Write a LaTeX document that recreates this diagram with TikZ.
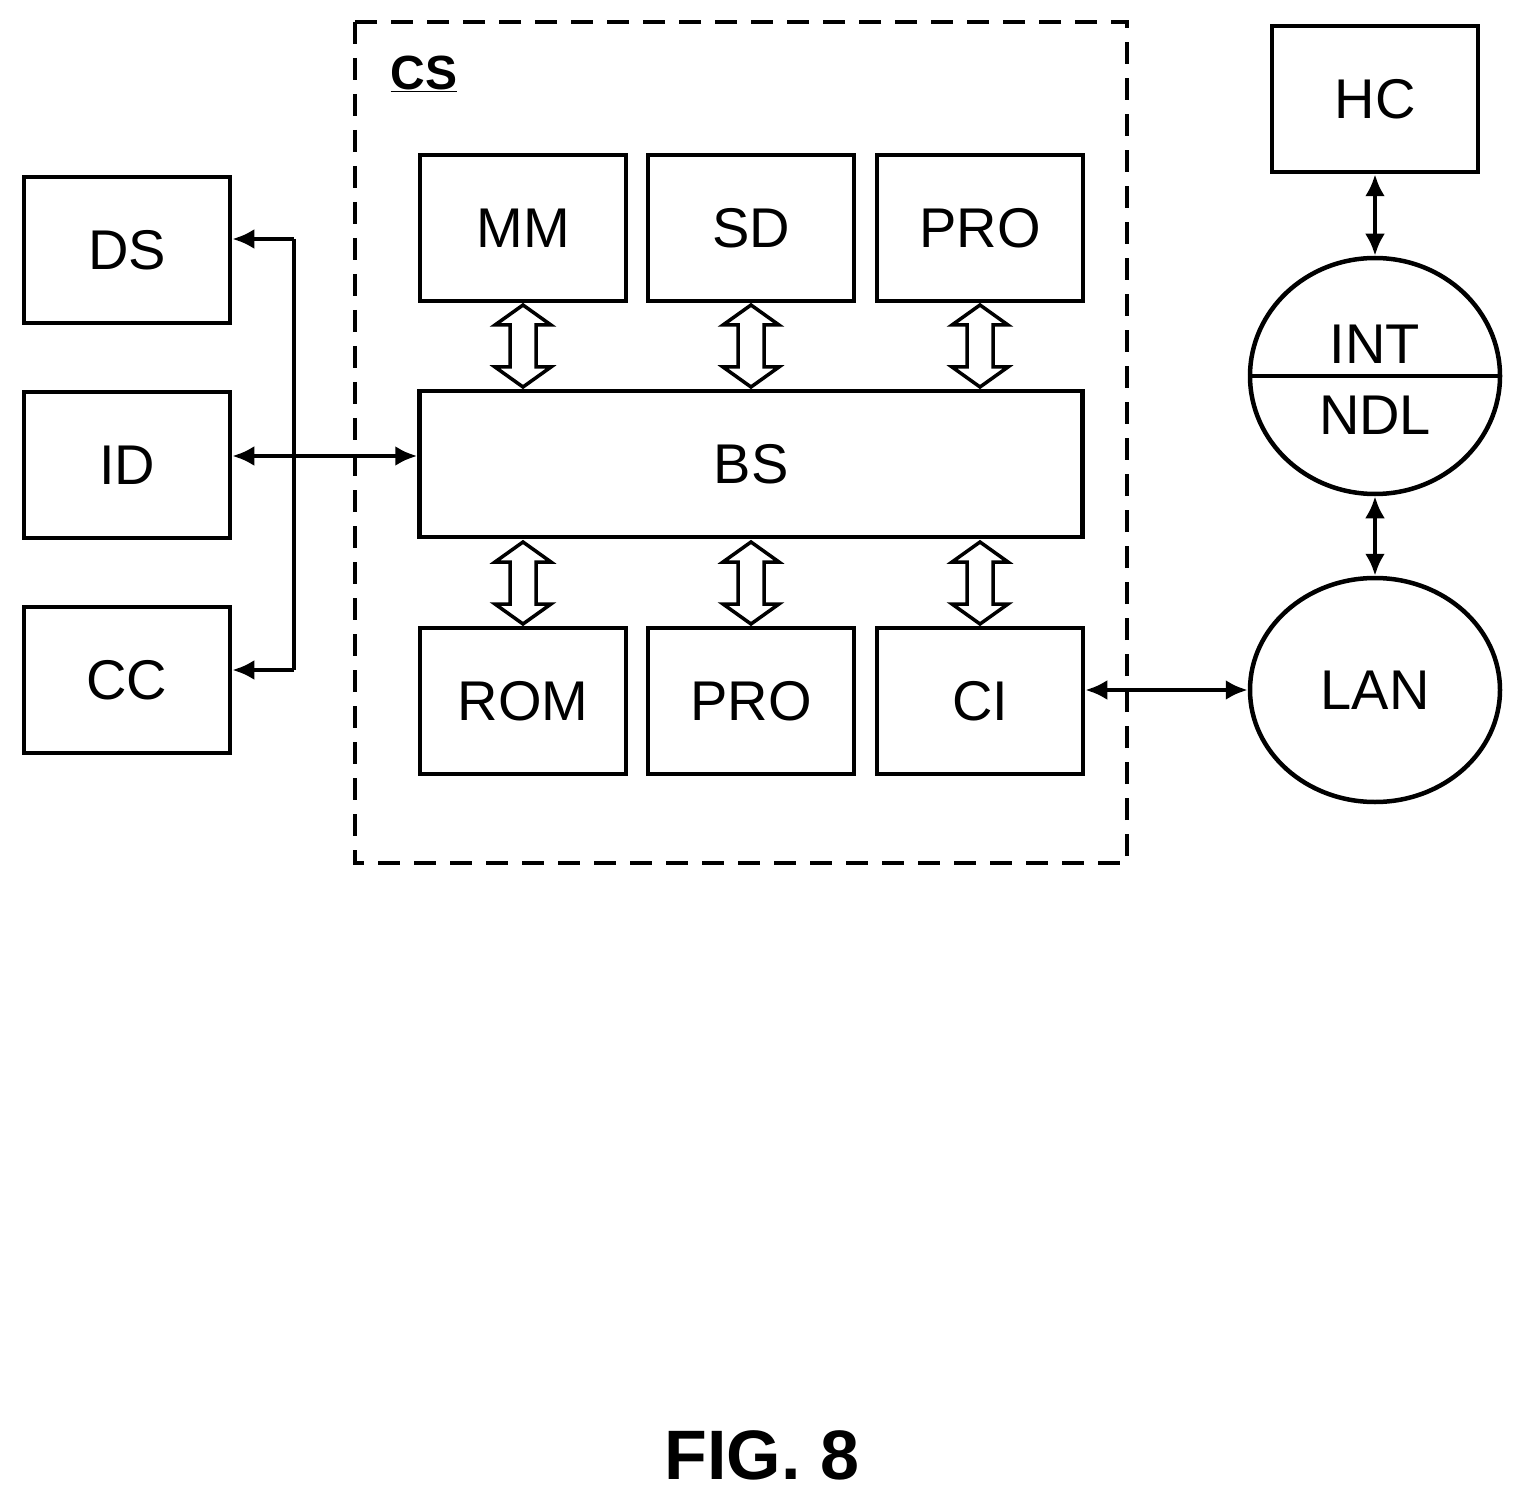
\documentclass[tikz,border=0pt]{standalone}
\usepackage{fontspec}
\setmainfont{Liberation Sans}
\usetikzlibrary{arrows.meta,shapes.geometric}
\begin{document}
\begin{tikzpicture}[x=1pt,y=-1pt,
  box/.style={draw,line width=4.5pt,minimum width=206pt,minimum height=146pt,inner sep=0pt,font=\fontsize{56}{60}\selectfont},
  conn/.style={line width=4.5pt,{Latex[length=22pt,width=20pt]}-{Latex[length=22pt,width=20pt]}},
  one/.style={line width=4.5pt,-{Latex[length=22pt,width=20pt]}},
  hol/.style={draw,line width=3.5pt,line join=miter}]
\useasboundingbox (0,0) rectangle (1524,1503);
\node[box] (DS) at (127,250) {DS};
\node[box] (ID) at (127,465) {ID};
\node[box] (CC) at (127,680) {CC};
\draw[line width=4.5pt,dashed,dash pattern=on 22pt off 14pt] (355,22) rectangle (1127,863);
\node[font=\fontsize{48}{50}\selectfont\bfseries] (CSl) at (424,74) {\underline{CS}};
\node[box] (MM) at (523,228) {MM};
\node[box] (SD) at (751,228) {SD};
\node[box] (PRO1) at (980,228) {PRO};
\node[box,minimum width=663pt] (BS) at (751,464) {BS};
\node[box] (ROM) at (523,701) {ROM};
\node[box] (PRO2) at (751,701) {PRO};
\node[box] (CI) at (980,701) {CI};
\node[box] (HC) at (1375,99) {HC};
\node[draw,ellipse,line width=4.5pt,minimum width=250pt,minimum height=236pt,inner sep=0pt] (INT) at (1375,376) {};
\draw[line width=4.5pt] (INT.west) -- (INT.east);
\node[font=\fontsize{56}{60}\selectfont] (INTt) at (1375,344) {INT};
\node[font=\fontsize{56}{60}\selectfont] (NDLt) at (1375,415) {NDL};
\node[draw,ellipse,line width=4.5pt,minimum width=250pt,minimum height=224pt,inner sep=0pt,font=\fontsize{56}{60}\selectfont] (LAN) at (1375,690) {LAN};
\coordinate (v1) at (294,239);
\coordinate (v2) at (294,670);
\draw[line width=4.5pt] (v1) -- (v2);
\draw[one] (v1) -- (DS.east |- v1);
\draw[one] (v2) -- (CC.east |- v2);
\draw[conn] (ID.east |- 0,456) -- (BS.west |- 0,456);
\draw[conn] (HC.south) -- (INT.north);
\draw[conn] (INT.south) -- (LAN.north);
\draw[conn] (CI.east |- 0,690) -- (LAN.west);
\foreach \x in {523,751,980}{
 \foreach \a/\b in {303/389,540/626}{
  \draw[hol] (\x,\a+2) -- (\x+28,\a+22) -- (\x+13,\a+22) -- (\x+13,\b-22) -- (\x+28,\b-22) -- (\x,\b-2) -- (\x-28,\b-22) -- (\x-13,\b-22) -- (\x-13,\a+22) -- (\x-28,\a+22) -- cycle;
 }}
\node[font=\fontsize{70}{72}\selectfont\bfseries] (fig) at (762,1455) {FIG. 8};
\end{tikzpicture}
\end{document}
